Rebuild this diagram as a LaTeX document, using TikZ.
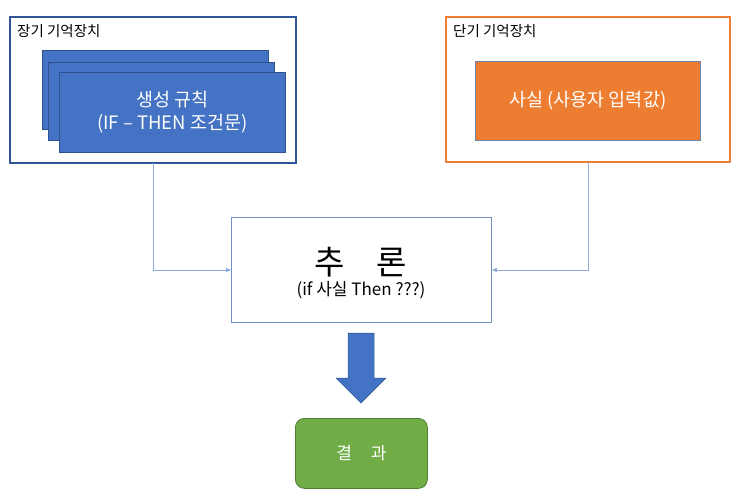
\documentclass[tikz,border=0pt]{standalone}
\usepackage{fontspec}
\setmainfont{Noto Sans CJK KR}
\usetikzlibrary{arrows.meta,shapes.arrows}
\definecolor{frameblue}{HTML}{2F5597}
\definecolor{boxblue}{HTML}{4472C4}
\definecolor{boxedge}{HTML}{2F528F}
\definecolor{frameorange}{HTML}{ED7D31}
\definecolor{lineblue}{HTML}{8FAADC}
\definecolor{resgreen}{HTML}{70AD47}
\definecolor{resedge}{HTML}{507E32}
\begin{document}
\begin{tikzpicture}[x=1pt,y=-1pt,
  frame/.style={draw, line width=2.2pt, fill=white},
  rulebox/.style={draw=boxedge, fill=boxblue, line width=0.6pt},
  link/.style={draw=lineblue, line width=0.8pt, -{Triangle[length=5pt,width=4pt]}, color=lineblue},
  lbl/.style={anchor=west, font=\fontsize{14.5}{16}\selectfont, inner sep=0pt}]
\useasboundingbox (0,0) rectangle (743,502);
% left frame
\draw[frame, draw=frameblue] (10,17) rectangle (296,163);
\node[lbl] (ltm) at (17,31) {장기 기억장치};
\draw[rulebox] (42,50) rectangle (268,129);
\draw[rulebox] (48,62) rectangle (274,140);
\node[rulebox, minimum width=226pt, minimum height=80pt, anchor=north west, text=white, align=center,
  font=\fontsize{18.5}{23}\selectfont] (rules) at (59,72) {생성 규칙\\(IF – THEN 조건문)};
% right frame
\draw[frame, draw=frameorange] (446,17) rectangle (730,162);
\node[lbl] (stm) at (453,31) {단기 기억장치};
\node[draw=boxedge!70, line width=0.6pt, fill=frameorange, minimum width=225pt, minimum height=79pt,
  anchor=north west, text=white, font=\fontsize{18.5}{20}\selectfont] (fact) at (475,61) {사실 (사용자 입력값)};
% frame anchors
\coordinate (lbot) at (153,163);
\coordinate (rbot) at (588,162);
% inference
\node[draw=lineblue!70!boxedge, line width=0.8pt, fill=white, minimum width=260pt, minimum height=105pt,
  anchor=north west] (inf) at (231,217) {};
\node[font=\fontsize{33}{36}\selectfont, inner sep=0pt] (inftitle) at (361,262) {추\hspace{0.95em}론};
\node[font=\fontsize{17}{19}\selectfont, inner sep=0pt] (infsub) at (361,290) {(if 사실 Then ???)};
\draw[link] (lbot) |- (inf.west |- 0,270);
\draw[link] (rbot) |- (inf.east |- 0,270);
% block arrow
\draw[fill=boxblue, draw=boxedge, line width=0.5pt] (348,333) -- (374,333) -- (374,378) -- (386,378) -- (361,403) -- (336,378) -- (348,378) -- cycle;
% result
\node[draw=resedge, line width=0.8pt, fill=resgreen, rounded corners=9pt, minimum width=132pt, minimum height=70pt,
  anchor=north west, text=white, font=\fontsize{17}{19}\selectfont] (res) at (295,418) {결\hspace{1.1em}과};
\end{tikzpicture}
\end{document}
